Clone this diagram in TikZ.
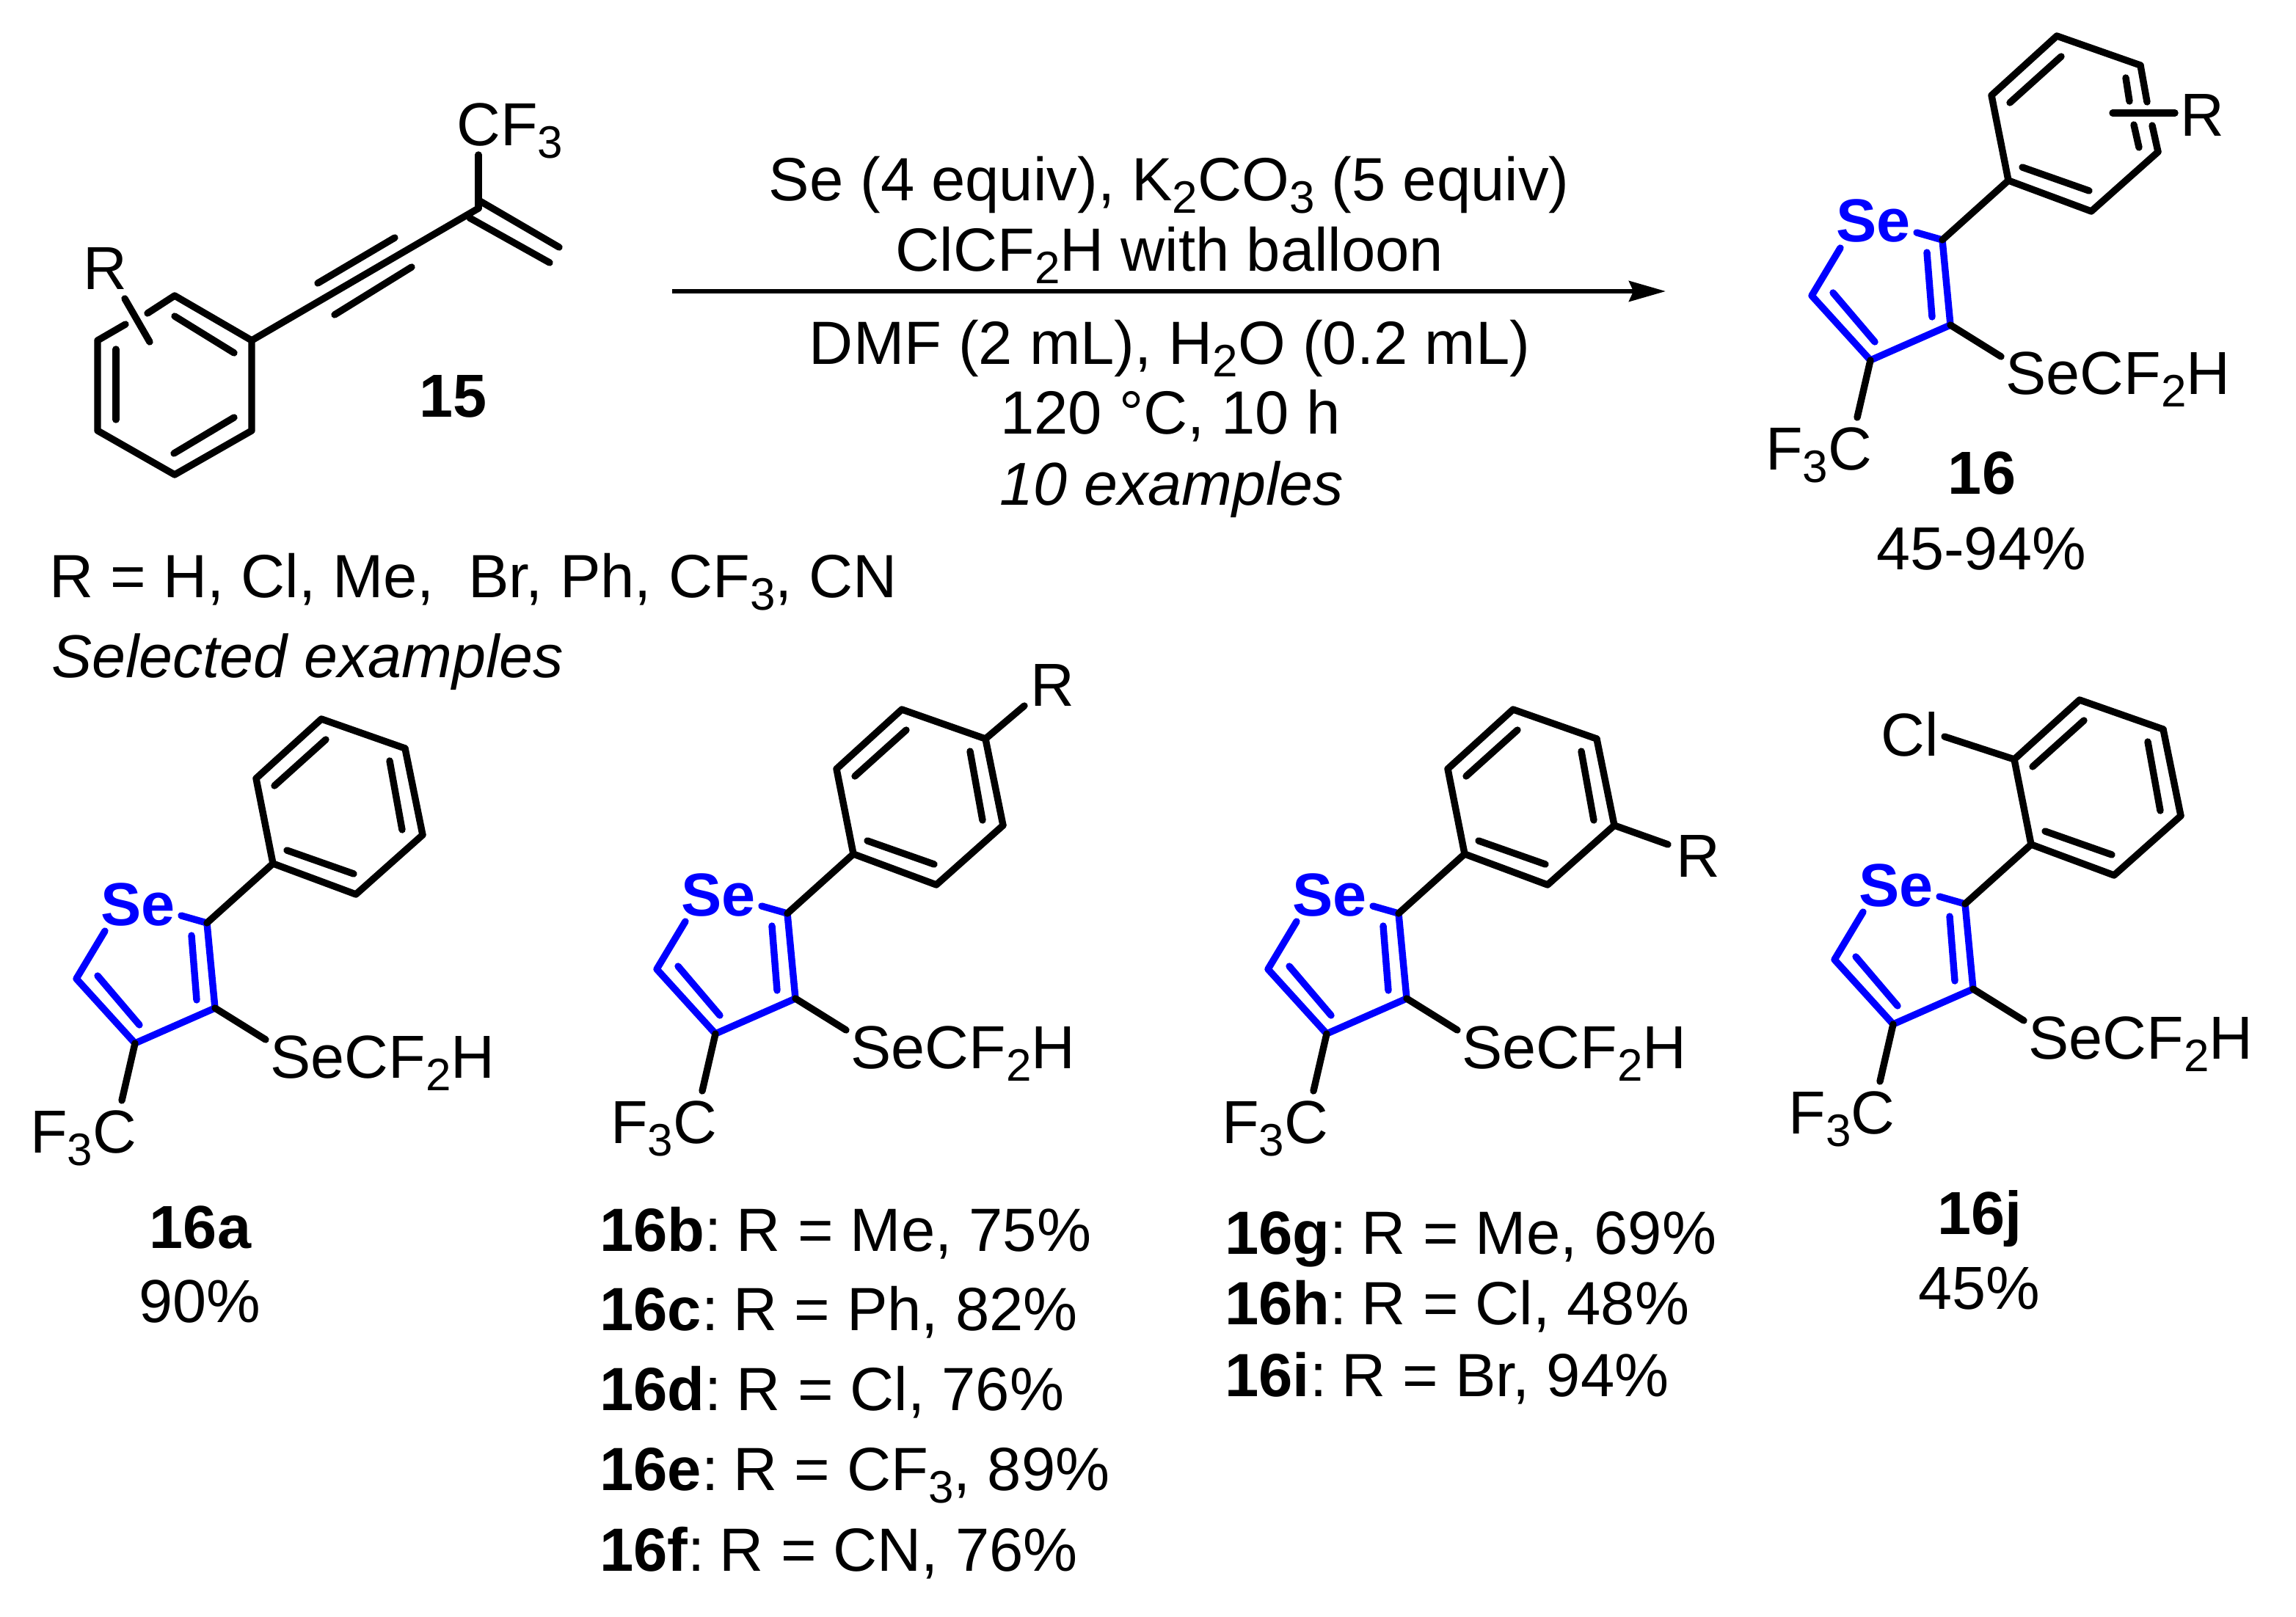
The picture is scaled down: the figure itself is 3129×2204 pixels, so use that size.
\documentclass[tikz,border=0pt]{standalone}
\usepackage{fontspec}
\setmainfont{Liberation Sans}
\usetikzlibrary{arrows.meta}
\definecolor{seblue}{RGB}{0,0,255}
\newcommand\chsub[1]{\raisebox{-8.5pt}{\fontsize{31}{31}\selectfont #1}}
\newcommand\labfont{\fontsize{41.4}{48}\selectfont}
\newcommand\txtfont{\fontsize{41.6}{48}\selectfont}
\newcommand\itfont{\fontsize{41.3}{48}\selectfont\itshape}
\newcommand\cpd[1]{\textbf{#1}:\hspace{10pt}\ignorespaces}
\tikzset{
  bond/.style={line width=4.7pt,line cap=round,line join=round,black},
  ringbond/.style={line width=4.7pt,line cap=round,line join=round,seblue},
  lab/.style={inner sep=0pt,anchor=base west,font=\labfont},
  txt/.style={inner sep=0pt,anchor=base,font=\txtfont},
  txtl/.style={inner sep=0pt,anchor=base west,font=\txtfont},
  selab/.style={inner sep=0pt,anchor=base west,font=\labfont\bfseries,text=seblue},
  rxn/.style={line width=3pt,-{Stealth[length=25pt,width=14pt,inset=3pt]}}
}
% prefix; position of ring carbon 2
\newcommand\selenoaryl[2]{%
  \begin{scope}[shift={(#2)}]
    \coordinate (#1c2) at (0,0);
    \coordinate (#1c3) at (11,116);
    \coordinate (#1c4) at (-98,164);
    \coordinate (#1c5) at (-178,76);
    \coordinate (#1sa) at (-139,11);
    \coordinate (#1sb) at (-35,-10);
    \coordinate (#1ia) at (-21,17);
    \coordinate (#1ib) at (-14,105);
    \coordinate (#1ic) at (-149,72);
    \coordinate (#1id) at (-92,139);
    \coordinate (#1ea) at (-116,242);
    \coordinate (#1eb) at (80,159);
    \coordinate (#1pa) at (90,-81);
    \coordinate (#1pb) at (67,-197);
    \coordinate (#1pc) at (156,-278);
    \coordinate (#1pd) at (270,-238);
    \coordinate (#1pe) at (294,-120);
    \coordinate (#1pf) at (203,-39);
    \coordinate (#1qa) at (162,-250);
    \coordinate (#1qb) at (92,-187);
    \coordinate (#1qc) at (109,-99);
    \coordinate (#1qd) at (200,-67);
    \coordinate (#1qe) at (249,-221);
    \coordinate (#1qf) at (266,-127);
    \node[selab] (#1se) at (-145,3) {Se};
    \node[lab] (#1sub) at (86,211) {SeCF\chsub{2}H};
    \node[lab] (#1cf) at (-241,313) {F\chsub{3}C};
  \end{scope}
  \draw[ringbond] (#1sb) -- (#1c2) -- (#1c3) -- (#1c4) -- (#1c5) -- (#1sa);
  \draw[ringbond] (#1ia) -- (#1ib);
  \draw[ringbond] (#1ic) -- (#1id);
  \draw[bond] (#1c2) -- (#1pa) -- (#1pb) -- (#1pc) -- (#1pd);
  \draw[bond] (#1pe) -- (#1pf) -- (#1pa);
  \draw[bond] (#1qa) -- (#1qb);
  \draw[bond] (#1qc) -- (#1qd);
  \draw[bond] (#1c3) -- (#1eb);
  \draw[bond] (#1c4) -- (#1ea);
}
\newcommand\closearyl[1]{%
  \draw[bond] (#1pd) -- (#1pe);
  \draw[bond] (#1qe) -- (#1qf);
}
\begin{document}
\begin{tikzpicture}[x=0.5pt,y=-0.5pt]
\useasboundingbox (0,0) rectangle (3129,2204);
% substrate 15
\coordinate (ra) at (238,403);
\coordinate (rb) at (343,464);
\coordinate (rc) at (343,587);
\coordinate (rd) at (238,647);
\coordinate (re) at (133,587);
\coordinate (rf) at (133,464);
\coordinate (rga) at (201,427);
\coordinate (rgb) at (171,442);
\coordinate (ria) at (238,431);
\coordinate (rib) at (319,481);
\coordinate (ric) at (158,476);
\coordinate (rid) at (158,572);
\coordinate (rie) at (237,618);
\coordinate (rif) at (319,569);
\coordinate (sta) at (170,407);
\coordinate (stb) at (204,466);
\coordinate (vc) at (652,284);
\coordinate (tua) at (433,386);
\coordinate (tub) at (538,324);
\coordinate (tla) at (456,429);
\coordinate (tlb) at (561,364);
\coordinate (cfe) at (652,211);
\coordinate (dua) at (654,274);
\coordinate (dub) at (762,337);
\coordinate (dla) at (640,297);
\coordinate (dlb) at (749,358);
\draw[bond] (rga) -- (ra) -- (rb) -- (rc) -- (rd) -- (re) -- (rf) -- (rgb);
\draw[bond] (ria) -- (rib);
\draw[bond] (ric) -- (rid);
\draw[bond] (rie) -- (rif);
\draw[bond] (sta) -- (stb);
\draw[bond] (rb) -- (vc);
\draw[bond] (tua) -- (tub);
\draw[bond] (tla) -- (tlb);
\draw[bond] (vc) -- (cfe);
\draw[bond] (dua) -- (dub);
\draw[bond] (dla) -- (dlb);
\node[lab] (r15) at (113,395) {R};
\node[lab] (cf15) at (622,199) {CF\chsub{3}};
\node[lab,anchor=base,font=\labfont\bfseries] (n15) at (618,568) {15};
% reaction
\coordinate (arra) at (916,397);
\coordinate (arrb) at (2270,397);
\draw[rxn] (arra) -- (arrb);
\node[txt] (c1) at (1593,274) {Se (4 equiv), K\chsub{2}CO\chsub{3} (5 equiv)};
\node[txt] (c2) at (1594,370) {ClCF\chsub{2}H with balloon};
\node[txt] (c3) at (1594,497) {DMF (2 mL), H\chsub{2}O (0.2 mL)};
\node[txt] (c4) at (1595,592) {120 °C, 10 h};
\node[txt,font=\itfont] (c5) at (1597,689) {10 examples};
% product 16
\selenoaryl{p}{2647,327}
\coordinate (pgaa) at (2917,89);
\coordinate (pgab) at (2926,139);
\coordinate (pgba) at (2933,171);
\coordinate (pgbb) at (2941,207);
\coordinate (pgca) at (2897,106);
\coordinate (pgcb) at (2902,138);
\coordinate (pgda) at (2908,170);
\coordinate (pgdb) at (2915,201);
\coordinate (pra) at (2879,154);
\coordinate (prb) at (2964,154);
\draw[bond] (pgaa) -- (pgab);
\draw[bond] (pgba) -- (pgbb);
\draw[bond] (pgca) -- (pgcb);
\draw[bond] (pgda) -- (pgdb);
\draw[bond] (pra) -- (prb);
\node[lab] (pr) at (2971,186) {R};
\node[lab,anchor=base,font=\labfont\bfseries] (n16) at (2701,673) {16};
\node[lab,anchor=base] (y16) at (2700,776) {45-94\%};
% R line
\node[txtl] (rlist) at (67,814) {R = H, Cl, Me,\ \ Br, Ph, CF\chsub{3}, CN};
\node[txtl,font=\itfont] (sel) at (70,923) {Selected examples};
% 16a
\selenoaryl{a}{282,1258}
\closearyl{a}
\node[lab,anchor=base,font=\labfont\bfseries] (n16a) at (273,1701) {16a};
\node[lab,anchor=base] (y16a) at (272,1802) {90\%};
% 16b-f
\selenoaryl{b}{1073,1245}
\closearyl{b}
\coordinate (bra) at (1396,962);
\draw[bond] (bpd) -- (bra);
\node[lab] (br) at (1404,962) {R};
\node[txtl] (l16b) at (817,1705) {\cpd{16b} R = Me, 75\%};
\node[txtl] (l16c) at (817,1813) {\cpd{16c} R = Ph, 82\%};
\node[txtl] (l16d) at (817,1922) {\cpd{16d} R = Cl, 76\%};
\node[txtl] (l16e) at (817,2031) {\cpd{16e} R = CF\chsub{3}, 89\%};
\node[txtl] (l16f) at (817,2141) {\cpd{16f} R = CN, 76\%};
% 16g-i
\selenoaryl{g}{1906,1245}
\closearyl{g}
\coordinate (gra) at (2273,1151);
\draw[bond] (gpe) -- (gra);
\node[lab] (gr) at (2284,1195) {R};
\node[txtl] (l16g) at (1669,1709) {\cpd{16g} R = Me, 69\%};
\node[txtl] (l16h) at (1669,1805) {\cpd{16h} R = Cl, 48\%};
\node[txtl] (l16i) at (1669,1903) {\cpd{16i} R = Br, 94\%};
% 16j
\selenoaryl{j}{2678,1232}
\closearyl{j}
\coordinate (jcl) at (2650,1004);
\draw[bond] (jpb) -- (jcl);
\node[lab] (jcll) at (2563,1030) {Cl};
\node[lab,anchor=base,font=\labfont\bfseries] (n16j) at (2698,1682) {16j};
\node[lab,anchor=base] (y16j) at (2697,1784) {45\%};
\end{tikzpicture}
\end{document}
